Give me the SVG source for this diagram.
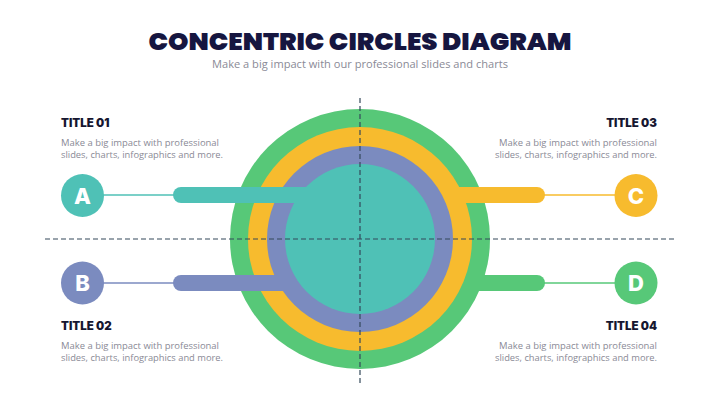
<svg xmlns="http://www.w3.org/2000/svg" width="720" height="404" viewBox="0 0 720 404">
  <defs>
    <style>
      .title { font-family: "Poppins", "Inter", "Liberation Sans", sans-serif; font-weight: 900; fill: #161640; }
      .sub { font-family: "Open Sans", "Liberation Sans", sans-serif; fill: #8a8a96; }
      .head { font-family: "Inter", "Liberation Sans", sans-serif; font-weight: 900; font-size: 11.5px; fill: #161630; }
      .body { font-family: "Open Sans", "Liberation Sans", sans-serif; font-size: 8.6px; fill: #8a8a96; }
      .letter { font-family: "Inter", "Liberation Sans", sans-serif; font-weight: 800; font-size: 22px; fill: #ffffff; text-anchor: middle; }
      .guide { stroke: #34495a; stroke-width: 1.2; stroke-dasharray: 5 3; fill: none; }
    </style>
  </defs>
  <rect width="720" height="404" fill="#ffffff"/>

  <text class="title" x="360" y="50" font-size="24" text-anchor="middle" textLength="423" lengthAdjust="spacingAndGlyphs">CONCENTRIC CIRCLES DIAGRAM</text>
  <text class="sub" x="360" y="68" font-size="10" text-anchor="middle" textLength="296" lengthAdjust="spacingAndGlyphs">Make a big impact with our professional slides and charts</text>

  <g id="circles">
    <circle cx="360" cy="239" r="130" fill="#57c878"/>
    <circle cx="360" cy="239" r="112" fill="#f7bb2e"/>
    <circle cx="360" cy="239" r="93" fill="#7b8bbf"/>
    <circle cx="360" cy="239" r="75" fill="#4fc1b6"/>
  </g>

  <g id="connectors">
    <rect x="173" y="187" width="133" height="16" rx="8" fill="#4fc1b6"/>
    <rect x="298" y="187" width="8" height="16" fill="#4fc1b6"/>
    <line x1="103" y1="195" x2="176" y2="195" stroke="#4fc1b6" stroke-width="1.6"/>

    <rect x="173" y="275" width="112" height="16" rx="8" fill="#7b8bbf"/>
    <rect x="270" y="275" width="15" height="16" fill="#7b8bbf"/>
    <line x1="103" y1="283" x2="176" y2="283" stroke="#7b8bbf" stroke-width="1.6"/>

    <rect x="452" y="187" width="93" height="16" rx="8" fill="#f7bb2e"/>
    <rect x="452" y="187" width="15" height="16" fill="#f7bb2e"/>
    <line x1="542" y1="195" x2="615" y2="195" stroke="#f7bb2e" stroke-width="1.6"/>

    <rect x="468" y="275" width="77" height="16" rx="8" fill="#57c878"/>
    <rect x="468" y="275" width="15" height="16" fill="#57c878"/>
    <line x1="542" y1="283" x2="615" y2="283" stroke="#57c878" stroke-width="1.6"/>
  </g>

  <g id="guides">
    <line class="guide" x1="45" y1="239" x2="676" y2="239"/>
    <line class="guide" x1="360" y1="98" x2="360" y2="383"/>
  </g>

  <g id="node-a">
    <circle cx="82.5" cy="195.5" r="21.5" fill="#4fc1b6"/>
    <text class="letter" x="82.5" y="203.5">A</text>
    <text class="head" x="61" y="127">TITLE 01</text>
    <text class="body" x="61" y="146" textLength="158" lengthAdjust="spacingAndGlyphs">Make a big impact with professional</text>
    <text class="body" x="61" y="158" textLength="162" lengthAdjust="spacingAndGlyphs">slides, charts, infographics and more.</text>
  </g>

  <g id="node-b">
    <circle cx="82.5" cy="283" r="21.5" fill="#7b8bbf"/>
    <text class="letter" x="82.5" y="291">B</text>
    <text class="head" x="61" y="330">TITLE 02</text>
    <text class="body" x="61" y="349" textLength="158" lengthAdjust="spacingAndGlyphs">Make a big impact with professional</text>
    <text class="body" x="61" y="361" textLength="162" lengthAdjust="spacingAndGlyphs">slides, charts, infographics and more.</text>
  </g>

  <g id="node-c">
    <circle cx="636" cy="195.5" r="21.5" fill="#f7bb2e"/>
    <text class="letter" x="636" y="203.5">C</text>
    <text class="head" x="657" y="127" text-anchor="end">TITLE 03</text>
    <text class="body" x="657" y="146" text-anchor="end" textLength="158" lengthAdjust="spacingAndGlyphs">Make a big impact with professional</text>
    <text class="body" x="657" y="158" text-anchor="end" textLength="162" lengthAdjust="spacingAndGlyphs">slides, charts, infographics and more.</text>
  </g>

  <g id="node-d">
    <circle cx="636" cy="283" r="21.5" fill="#57c878"/>
    <text class="letter" x="636" y="291">D</text>
    <text class="head" x="657" y="330" text-anchor="end">TITLE 04</text>
    <text class="body" x="657" y="349" text-anchor="end" textLength="158" lengthAdjust="spacingAndGlyphs">Make a big impact with professional</text>
    <text class="body" x="657" y="361" text-anchor="end" textLength="162" lengthAdjust="spacingAndGlyphs">slides, charts, infographics and more.</text>
  </g>
</svg>
